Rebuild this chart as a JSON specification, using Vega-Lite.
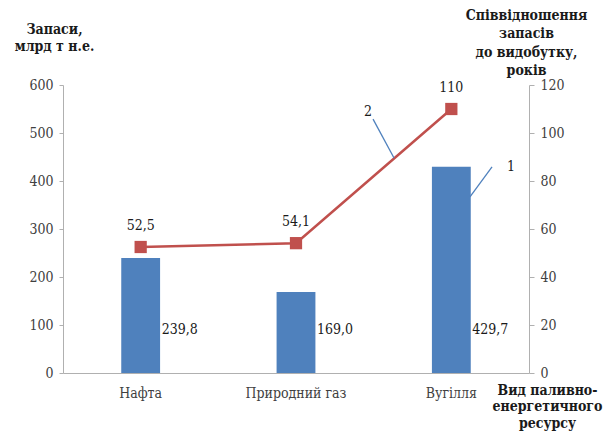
{
  "$schema": "https://vega.github.io/schema/vega-lite/v6.json",
  "width": 466,
  "height": 288,
  "autosize": "none",
  "padding": {"left": 63, "top": 85, "right": 74, "bottom": 64},
  "background": "white",
  "config": {
    "locale": {"number": {"decimal": ",", "thousands": " ", "grouping": [3], "currency": ["", ""]}},
    "view": {"stroke": null},
    "font": "DejaVu Serif Condensed",
    "axis": {
      "labelFont": "DejaVu Serif Condensed",
      "labelFontSize": 14,
      "labelColor": "#404040",
      "titleFont": "DejaVu Serif Condensed",
      "titleFontSize": 14,
      "titleFontWeight": "bold",
      "titleColor": "#1a1a1a",
      "domainColor": "#b0b0b0",
      "tickColor": "#b0b0b0",
      "grid": false
    },
    "text": {"font": "DejaVu Serif Condensed", "fontSize": 14, "color": "#1a1a1a"}
  },
  "datasets": {
    "resources": [
      {"resource": "Нафта", "reserves": 239.8, "ratio": 52.5},
      {"resource": "Природний газ", "reserves": 169.0, "ratio": 54.1},
      {"resource": "Вугілля", "reserves": 429.7, "ratio": 110}
    ],
    "callouts": [
      {"id": "1", "x": 2.62, "y": 366.7, "x2": 2.762, "y2": 429.2, "tx": 2.884, "ty": 429},
      {"id": "2", "x": 1.996, "y": 529, "x2": 2.131, "y2": 448, "tx": 1.964, "ty": 544}
    ]
  },
  "layer": [
    {
      "data": {"name": "resources"},
      "encoding": {
        "x": {
          "field": "resource",
          "type": "nominal",
          "sort": null,
          "scale": {"paddingInner": 0.75, "paddingOuter": 0.375},
          "axis": {
            "title": ["Вид паливно-", "енергетичного", "ресурсу"],
            "titleAngle": 0,
            "titleAlign": "center",
            "titleBaseline": "top",
            "titleX": 484,
            "titleY": 10,
            "titleLineHeight": 16.5,
            "labelAngle": 0,
            "labelBaseline": "top",
            "labelPadding": 13,
            "ticks": false,
            "tickSize": 0
          }
        }
      },
      "layer": [
        {
          "mark": {"type": "bar", "color": "#4F81BD"},
          "encoding": {
            "y": {
              "field": "reserves",
              "type": "quantitative",
              "scale": {"domain": [0, 600], "nice": false},
              "axis": {
                "orient": "left",
                "values": [0, 100, 200, 300, 400, 500, 600],
                "tickSize": 4,
                "labelPadding": 6,
                "title": ["Запаси,", "млрд т н.е."],
                "titleAngle": 0,
                "titleAlign": "center",
                "titleBaseline": "top",
                "titleX": -9,
                "titleY": -63,
                "titleLineHeight": 17
              }
            }
          }
        },
        {
          "mark": {"type": "text", "align": "left", "baseline": "middle", "dx": 21},
          "encoding": {
            "y": {"datum": 90, "type": "quantitative"},
            "text": {"field": "reserves", "type": "quantitative", "format": ".1f"}
          }
        }
      ]
    },
    {
      "data": {"name": "resources"},
      "encoding": {
        "x": {
          "field": "resource",
          "type": "nominal",
          "sort": null,
          "scale": {"paddingInner": 0.75, "paddingOuter": 0.375},
          "axis": null
        },
        "y": {
          "field": "ratio",
          "type": "quantitative",
          "scale": {"domain": [0, 120], "nice": false},
          "axis": {
            "orient": "right",
            "values": [0, 20, 40, 60, 80, 100, 120],
            "tickSize": 5,
            "labelPadding": 6,
            "title": ["Співвідношення", "запасів", "до видобутку,", "років"],
            "titleAngle": 0,
            "titleAlign": "center",
            "titleBaseline": "top",
            "titleX": -3,
            "titleY": -77,
            "titleLineHeight": 18.5
          }
        }
      },
      "layer": [
        {"mark": {"type": "line", "color": "#C0504D", "strokeWidth": 2.5}},
        {"mark": {"type": "point", "shape": "square", "filled": true, "opacity": 1, "size": 150, "color": "#C0504D"}},
        {
          "mark": {"type": "text", "align": "center", "baseline": "middle", "dy": -21},
          "encoding": {"text": {"field": "ratio", "type": "quantitative", "format": ".1~f"}}
        }
      ]
    },
    {
      "data": {"name": "callouts"},
      "layer": [
        {
          "mark": {"type": "rule", "color": "#4F81BD", "strokeWidth": 1.3},
          "encoding": {
            "x": {"field": "x", "type": "quantitative", "scale": {"domain": [0, 3], "nice": false, "zero": false}, "axis": null},
            "y": {"field": "y", "type": "quantitative", "scale": {"domain": [0, 600], "nice": false}, "axis": null},
            "x2": {"field": "x2"},
            "y2": {"field": "y2"}
          }
        },
        {
          "mark": {"type": "text", "align": "center", "baseline": "middle"},
          "encoding": {
            "x": {"field": "tx", "type": "quantitative", "scale": {"domain": [0, 3], "nice": false, "zero": false}, "axis": null},
            "y": {"field": "ty", "type": "quantitative", "scale": {"domain": [0, 600], "nice": false}, "axis": null},
            "text": {"field": "id", "type": "nominal"}
          }
        }
      ]
    }
  ],
  "resolve": {"scale": {"x": "independent", "y": "independent"}}
}
